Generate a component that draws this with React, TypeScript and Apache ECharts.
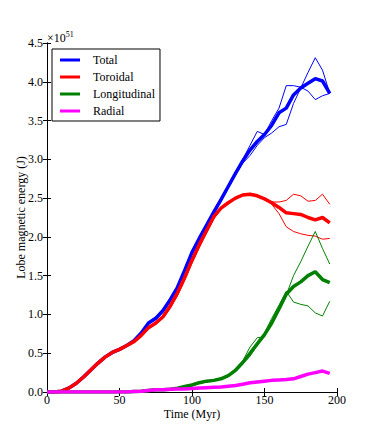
import React, { useEffect, useRef } from "react";
import * as echarts from "echarts";

const TIME = Array.from({ length: 40 }, (_, i) => i * 5);
const XTICKS = [0, 50, 100, 150, 200];
const YTICKS = [0, 0.5, 1, 1.5, 2, 2.5, 3, 3.5, 4, 4.5];
const LEGEND_NAMES = ["Total", "Toroidal", "Longitudinal", "Radial"];

const totalMain = [0,0,0.01,0.05,0.11,0.19,0.28,0.37,0.45,0.51,0.55,0.60,0.66,0.76,0.89,0.95,1.05,1.19,1.35,1.57,1.80,1.98,2.15,2.32,2.48,2.65,2.82,2.98,3.12,3.23,3.32,3.44,3.60,3.66,3.83,3.92,3.98,4.04,4.01,3.85];
const totalRunA = [0,0,0.01,0.05,0.11,0.19,0.28,0.37,0.45,0.51,0.55,0.60,0.66,0.77,0.90,0.97,1.07,1.21,1.37,1.59,1.82,2.00,2.17,2.34,2.50,2.67,2.84,3.00,3.18,3.36,3.32,3.50,3.66,3.95,3.95,3.93,3.88,3.77,3.82,3.85];
const totalRunB = [0,0,0.01,0.05,0.11,0.19,0.28,0.37,0.45,0.51,0.55,0.60,0.66,0.75,0.88,0.93,1.03,1.17,1.33,1.55,1.78,1.96,2.13,2.30,2.46,2.63,2.80,2.95,3.05,3.18,3.28,3.34,3.42,3.45,3.72,3.92,4.12,4.31,4.15,3.85];

const toroidalMain = [0,0,0.01,0.05,0.11,0.19,0.28,0.37,0.45,0.51,0.55,0.60,0.65,0.73,0.83,0.89,0.97,1.11,1.28,1.48,1.70,1.90,2.08,2.26,2.37,2.44,2.50,2.54,2.55,2.53,2.49,2.44,2.38,2.31,2.30,2.29,2.25,2.22,2.25,2.18];
const toroidalRunA = [0,0,0.01,0.05,0.11,0.19,0.28,0.37,0.45,0.51,0.55,0.60,0.65,0.72,0.81,0.87,0.95,1.08,1.24,1.44,1.66,1.86,2.05,2.23,2.36,2.44,2.50,2.54,2.55,2.53,2.49,2.45,2.45,2.47,2.55,2.53,2.46,2.47,2.55,2.42];
const toroidalRunB = [0,0,0.01,0.05,0.11,0.19,0.28,0.37,0.45,0.51,0.55,0.60,0.65,0.73,0.82,0.88,0.98,1.12,1.29,1.50,1.72,1.91,2.09,2.27,2.38,2.45,2.51,2.55,2.56,2.54,2.49,2.42,2.30,2.13,2.07,2.04,2.02,2.01,1.97,1.98];

const longMain = [0,0,0,0,0,0,0,0,0,0,0,0,0.005,0.01,0.02,0.03,0.03,0.035,0.05,0.07,0.09,0.12,0.14,0.15,0.17,0.21,0.28,0.38,0.50,0.62,0.74,0.89,1.07,1.26,1.36,1.42,1.50,1.55,1.45,1.41];
const longRunA = [0,0,0,0,0,0,0,0,0,0,0,0,0.005,0.01,0.03,0.04,0.035,0.04,0.05,0.08,0.10,0.13,0.14,0.15,0.18,0.22,0.30,0.40,0.58,0.70,0.71,0.92,1.10,1.25,1.50,1.68,1.88,2.07,1.85,1.65];
const longRunB = [0,0,0,0,0,0,0,0,0,0,0,0,0.005,0.01,0.02,0.03,0.03,0.03,0.045,0.065,0.08,0.11,0.13,0.15,0.17,0.20,0.27,0.36,0.46,0.60,0.76,0.95,1.12,1.30,1.16,1.13,1.11,1.02,0.98,1.17];

const radialMain = [0,0,0,0,0,0,0,0,0,0,0,0,0.005,0.01,0.02,0.03,0.03,0.035,0.04,0.04,0.045,0.05,0.055,0.06,0.065,0.075,0.085,0.10,0.12,0.13,0.14,0.15,0.155,0.16,0.17,0.20,0.23,0.25,0.27,0.24];

const FONT = "Liberation Serif";

function pairs(vals: number[]) {
  return vals.map((v, i) => [TIME[i], v]);
}

export default function App() {
  const ref = useRef<HTMLDivElement>(null);
  useEffect(() => {
    if (!ref.current) return;
    const chart = echarts.init(ref.current, undefined, { renderer: "svg" });
    const line = (name: string, vals: number[], color: string, width: number) => ({
      name,
      type: "line",
      data: pairs(vals),
      showSymbol: false,
      symbol: "none",
      lineStyle: { color, width },
      itemStyle: { color },
      emphasis: { disabled: true },
    });
    const axisCommon = {
      type: "value",
      axisLine: { show: true, lineStyle: { color: "#000", width: 1 } },
      axisTick: { show: true, inside: true, length: 4, lineStyle: { color: "#000" } },
      splitLine: { show: false },
    };
    chart.setOption({
      animation: false,
      backgroundColor: "#fff",
      grid: { left: 47, right: 37, top: 43, bottom: 44 },
      xAxis: [
        {
          ...axisCommon,
          min: 0, max: 200, interval: 50,
          name: "Time (Myr)",
          nameLocation: "middle",
          nameGap: 16,
          nameMoveOverlap: false,
          nameTextStyle: { fontFamily: FONT, fontSize: 12, color: "#000" },
          axisLabel: { fontFamily: FONT, fontSize: 12, color: "#000", margin: 2,
            formatter: (v: number) => (XTICKS.includes(v) ? String(v) : "") },
        },
        { ...axisCommon, position: "top", min: 0, max: 200, interval: 50, axisLabel: { show: false } },
      ],
      yAxis: [
        {
          ...axisCommon,
          min: 0, max: 4.5, interval: 0.5,
          name: "Lobe magnetic energy (J)",
          nameLocation: "middle",
          nameGap: 20,
          nameMoveOverlap: false,
          nameTextStyle: { fontFamily: FONT, fontSize: 12, color: "#000" },
          axisLabel: { fontFamily: FONT, fontSize: 12, color: "#000", margin: 4,
            formatter: (v: number) => (YTICKS.some((t) => Math.abs(t - v) < 1e-9) ? v.toFixed(1) : "") },
        },
        { ...axisCommon, position: "right", min: 0, max: 4.5, interval: 0.5, axisLabel: { show: false } },
      ],
      legend: {
        data: LEGEND_NAMES.map((n) => ({ name: n, icon: "rect" })),
        orient: "vertical",
        left: 52,
        top: 49,
        padding: [4, 5, 3, 8],
        itemGap: 3,
        itemWidth: 20,
        itemHeight: 3,
        borderColor: "#000",
        borderWidth: 1,
        borderRadius: 0,
        backgroundColor: "#fff",
        selectedMode: false,
        textStyle: { fontFamily: FONT, fontSize: 12, color: "#000", lineHeight: 14, padding: [0, 0, 0, 8] },
      },
      graphic: [
        {
          type: "text",
          left: 47,
          top: 30,
          style: {
            text: "{a|×10}{b|51}",
            rich: {
              a: { fontFamily: FONT, fontSize: 12, fill: "#000", verticalAlign: "bottom" },
              b: { fontFamily: FONT, fontSize: 8, fill: "#000", verticalAlign: "top", padding: [0, 0, 6, 0] },
            },
          },
        },
      ],
      series: [
        line("Total", totalMain, "#0000ff", 3.5),
        line("Total run A", totalRunA, "#0000ff", 1),
        line("Total run B", totalRunB, "#0000ff", 1),
        line("Toroidal", toroidalMain, "#ff0000", 3.5),
        line("Toroidal run A", toroidalRunA, "#ff0000", 1),
        line("Toroidal run B", toroidalRunB, "#ff0000", 1),
        line("Longitudinal", longMain, "#008000", 3.5),
        line("Longitudinal run A", longRunA, "#008000", 1),
        line("Longitudinal run B", longRunB, "#008000", 1),
        line("Radial", radialMain, "#ff00ff", 3.5),
      ],
    });
    return () => chart.dispose();
  }, []);
  return (
    <div style={{ position: "fixed", left: 0, top: 0, width: 374, height: 436, background: "#fff" }}>
      <div ref={ref} style={{ width: 374, height: 436 }} />
    </div>
  );
}
